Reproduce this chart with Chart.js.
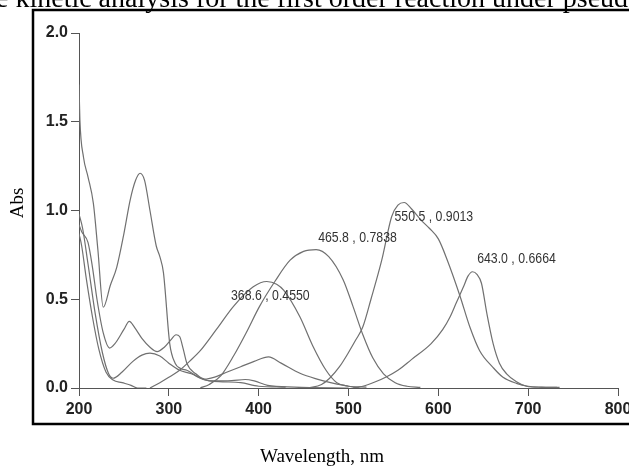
<!DOCTYPE html>
<html>
<head>
<meta charset="utf-8">
<script src="https://cdn.jsdelivr.net/npm/chart.js@4.4.1/dist/chart.umd.min.js"></script>
<style>
  html, body { margin: 0; padding: 0; background: #fff; overflow: hidden; }
  #wrap { position: relative; width: 629px; height: 466px; overflow: hidden; }
  #spectra { position: absolute; left: 0; top: 0; }
</style>
</head>
<body>
<div id="wrap"><canvas id="spectra" width="645" height="466"></canvas></div>
<script>
// wavelength (nm) / absorbance pairs, one pair of arrays per spectrum
const nmA  = [200, 201, 205, 210, 216, 221, 227, 235, 242, 250, 257, 263, 268, 273, 279, 286, 290, 294, 301, 307, 313, 320, 330, 345, 360, 380, 400, 430];
const absA = [1.71, 1.51, 1.30, 1.19, 1.04, 0.78, 0.455, 0.58, 0.68, 0.87, 1.06, 1.17, 1.21, 1.17, 1.0, 0.80, 0.74, 0.65, 0.25, 0.14, 0.11, 0.10, 0.07, 0.04, 0.035, 0.03, 0.01, 0.005];

const nmB  = [200, 203, 210, 215, 220, 227, 234, 240, 250, 256, 262, 270, 279, 287, 295, 302, 308, 312, 316, 320, 330, 340, 350, 365, 380, 395, 411, 425, 446, 465, 480, 500, 520];
const absB = [0.92, 0.88, 0.82, 0.68, 0.50, 0.31, 0.225, 0.25, 0.33, 0.375, 0.34, 0.28, 0.23, 0.205, 0.23, 0.27, 0.30, 0.29, 0.22, 0.14, 0.08, 0.05, 0.06, 0.09, 0.12, 0.15, 0.175, 0.14, 0.083, 0.05, 0.03, 0.01, 0.005];

const nmC  = [200, 204, 210, 218, 226, 233, 238, 248, 260, 270, 279, 290, 300, 312, 325, 340, 350, 370, 385, 395, 410, 440, 500];
const absC = [0.98, 0.90, 0.70, 0.42, 0.20, 0.08, 0.055, 0.09, 0.15, 0.185, 0.196, 0.18, 0.14, 0.10, 0.08, 0.045, 0.04, 0.042, 0.048, 0.04, 0.015, 0.005, 0.0];

const nmD  = [200, 203, 208, 215, 222, 230, 238, 248, 258, 265, 275];
const absD = [0.87, 0.80, 0.62, 0.40, 0.22, 0.09, 0.045, 0.03, 0.015, 0.0, 0.0];

const nmE  = [279, 290, 300, 312, 323, 335, 353, 372, 394, 409, 420, 428, 446, 460, 475, 487, 500, 512];
const absE = [0.0, 0.03, 0.06, 0.10, 0.15, 0.21, 0.33, 0.46, 0.57, 0.60, 0.585, 0.55, 0.40, 0.24, 0.10, 0.03, 0.01, 0.0];

const nmF  = [335, 345, 358, 372, 386, 401, 418, 435, 450, 464, 478, 494, 505, 516, 527, 539, 552, 565, 580];
const absF = [0.0, 0.02, 0.07, 0.18, 0.31, 0.46, 0.60, 0.72, 0.77, 0.78, 0.74, 0.61, 0.46, 0.30, 0.17, 0.08, 0.03, 0.01, 0.003];

const nmG  = [455, 470, 479, 490, 500, 508, 516, 525, 537, 548, 555, 562, 570, 580, 590, 600, 610, 624, 635, 646, 661, 672, 687, 700, 715, 732];
const absG = [0.0, 0.02, 0.055, 0.12, 0.20, 0.27, 0.345, 0.50, 0.72, 0.965, 1.03, 1.045, 1.01, 0.95, 0.90, 0.84, 0.72, 0.52, 0.345, 0.21, 0.115, 0.06, 0.026, 0.01, 0.005, 0.003];

const nmH  = [505, 516, 530, 543, 555, 570, 592, 605, 613, 620, 628, 633, 638, 643, 648, 654, 661, 668, 676, 687, 698, 715, 735];
const absH = [0.0, 0.01, 0.035, 0.065, 0.10, 0.16, 0.25, 0.33, 0.40, 0.48, 0.57, 0.63, 0.655, 0.64, 0.59, 0.42, 0.25, 0.14, 0.08, 0.035, 0.01, 0.004, 0.003];

// peak readouts printed on the plot, anchored (centre) in data units
const peakText = ['368.6 , 0.4550', '465.8 , 0.7838', '550.5 , 0.9013', '643.0 , 0.6664'];
const peakTextNm = [413, 510, 595, 687];
const peakTextAbs = [0.518, 0.848, 0.966, 0.727];

const xTicks = [200, 300, 400, 500, 600, 700, 800];
const yTicks = [0.0, 0.5, 1.0, 1.5, 2.0];

const SANS = "'Liberation Sans', Arial, sans-serif";
const SERIF = "'Liberation Serif', 'Times New Roman', serif";

const spectra = [[nmA, absA], [nmB, absB], [nmC, absC], [nmD, absD], [nmE, absE], [nmF, absF], [nmG, absG], [nmH, absH]];

const datasets = spectra.map(([nm, abs]) => ({
    data: nm.map((x, i) => ({ x: x, y: abs[i] })),
    borderColor: '#707070',
    borderWidth: 1.2,
    pointRadius: 0,
    fill: false,
    cubicInterpolationMode: 'monotone'
}));

// frame, page text and the peak readouts
const decorations = {
    id: 'decorations',
    afterDatasetsDraw(chart) {
        const { ctx, scales: { x, y } } = chart;
        ctx.save();
        ctx.fillStyle = '#333';
        ctx.font = '15px ' + SANS;
        ctx.textAlign = 'center';
        ctx.textBaseline = 'middle';
        peakText.forEach((t, i) => {
            // the original print uses a condensed face, so squeeze horizontally
            ctx.save();
            ctx.translate(x.getPixelForValue(peakTextNm[i]), y.getPixelForValue(peakTextAbs[i]));
            ctx.scale(0.82, 1);
            ctx.fillText(t, 0, 0);
            ctx.restore();
        });
        ctx.restore();
    },
    afterDraw(chart) {
        const ctx = chart.ctx;
        ctx.save();
        // figure box
        ctx.strokeStyle = '#000';
        ctx.lineWidth = 2.5;
        ctx.beginPath();
        ctx.moveTo(660, 10);
        ctx.lineTo(33, 10);
        ctx.lineTo(33, 424);
        ctx.lineTo(660, 424);
        ctx.stroke();

        ctx.fillStyle = '#000';
        ctx.textBaseline = 'alphabetic';
        // clipped line of the surrounding paper text
        ctx.font = '28px ' + SERIF;
        ctx.textAlign = 'left';
        ctx.fillText('e kinetic analysis for the first order reaction under pseudo', -4, 7);

        ctx.font = '19px ' + SERIF;
        ctx.fillText('Wavelength, nm', 260, 462);

        ctx.translate(23, 203);
        ctx.rotate(-Math.PI / 2);
        ctx.textAlign = 'center';
        ctx.fillText('Abs', 0, 0);
        ctx.restore();
    }
};

const tickFont = { family: SANS, size: 16, weight: 'bold' };

const ctx = document.getElementById('spectra').getContext('2d');
new Chart(ctx, {
    type: 'line',
    data: { datasets: datasets },
    options: {
        responsive: false,
        animation: false,
        devicePixelRatio: 1,
        layout: { padding: { top: 33, right: 27, left: 0, bottom: 0 } },
        scales: {
            x: {
                type: 'linear',
                min: 200,
                max: 800,
                afterBuildTicks: (scale) => { scale.ticks = xTicks.map(v => ({ value: v })); },
                afterFit: (scale) => { scale.height = 78; },
                ticks: { color: '#222', padding: 4, maxRotation: 0, font: tickFont },
                grid: { drawOnChartArea: false, tickLength: 8, color: '#555' },
                border: { color: '#555', width: 1 }
            },
            y: {
                min: 0,
                max: 2,
                afterBuildTicks: (scale) => { scale.ticks = yTicks.map(v => ({ value: v })); },
                afterFit: (scale) => { scale.width = 79; },
                ticks: { color: '#222', padding: 3, callback: (v) => Number(v).toFixed(1), font: tickFont },
                grid: { drawOnChartArea: false, tickLength: 8, color: '#555' },
                border: { color: '#555', width: 1 }
            }
        },
        plugins: {
            legend: { display: false },
            tooltip: { enabled: false }
        }
    },
    plugins: [decorations]
});
</script>
</body>
</html>
